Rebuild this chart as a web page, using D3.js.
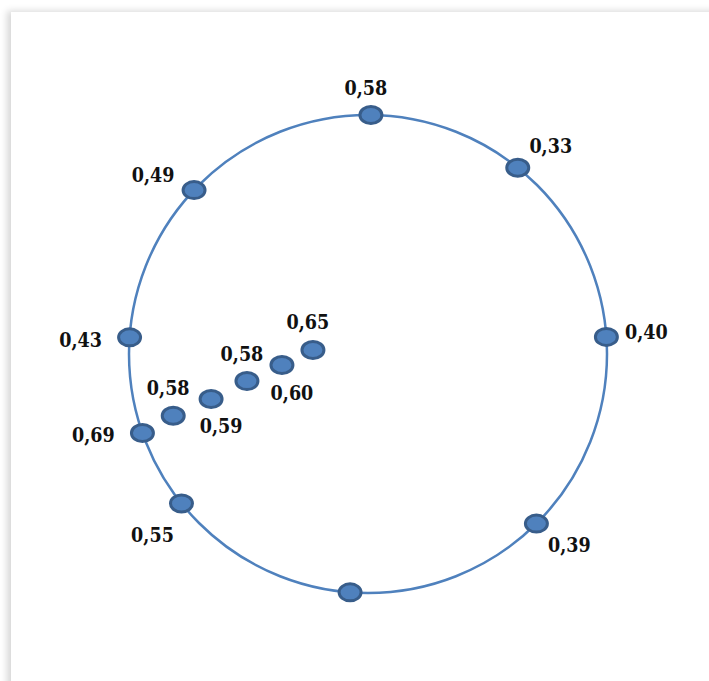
<!DOCTYPE html>
<html>
<head>
<meta charset="utf-8">
<script src="https://cdn.jsdelivr.net/npm/d3@7"></script>
<style>
  html, body { margin: 0; padding: 0; background: #fff; overflow: hidden; }
  #panel {
    position: absolute; left: 11px; top: 12px; width: 720px; height: 700px;
    background: #fff; box-shadow: -4px -1px 7px rgba(0,0,0,0.16);
  }
  svg { position: absolute; left: 0; top: 0; }
</style>
</head>
<body>
<div id="panel"></div>
<svg id="chart" width="709" height="681"></svg>
<script>
// Nodes on the ring: angle (degrees, clockwise from top) and value label
const ringAngles = [0.7, 38.8, 85.9, 135.2, 184.3, 231.3, 250.7, 274.0, 313.3];
const ringLabels = ["0,58", "0,33", "0,40", "0,39", "", "0,55", "0,69", "0,43", "0,49"];
const ringLabelSides = ["n", "ne", "e", "se", "s", "sw", "w", "w", "nw"];

// Nodes inside the ring: angle (degrees) and distance from centre (fraction of ring radius)
const innerAngles = [252.4, 254.0, 257.4, 262.7, 274.2];
const innerRadii = [0.855, 0.683, 0.519, 0.363, 0.231];
const innerLabels = ["0,58", "0,59", "0,58", "0,60", "0,65"];
const innerLabelSides = ["n", "s", "n", "s", "n"];

const svg = d3.select("#chart");
const cx = 368, cy = 354, R = 239;

const angle = d3.scaleLinear().domain([0, 360]).range([0, 2 * Math.PI]);
const radius = d3.scaleLinear().domain([0, 1]).range([0, R]);

function pos(a, r) {
  const t = angle(a);
  return [cx + radius(r) * Math.sin(t), cy - radius(r) * Math.cos(t)];
}

const offsets = {
  n: [-5, -27], s: [10, 28], e: [40, -4], w: [-49, 3],
  ne: [33, -21], se: [33, 22], sw: [-29, 32], nw: [-41, -15]
};

// ring
svg.append("circle")
  .attr("cx", cx).attr("cy", cy).attr("r", radius(1))
  .attr("fill", "none").attr("stroke", "#4f81bd").attr("stroke-width", 2.5);

const nodes = ringAngles.map((a, i) => ({ a, r: 1, label: ringLabels[i], side: ringLabelSides[i] }))
  .concat(innerAngles.map((a, i) => ({ a, r: innerRadii[i], label: innerLabels[i], side: innerLabelSides[i] })));

nodes.forEach(d => { const p = pos(d.a, d.r); d.x = p[0]; d.y = p[1]; });

svg.selectAll("ellipse.node").data(nodes).join("ellipse")
  .attr("class", "node")
  .attr("cx", d => d.x).attr("cy", d => d.y)
  .attr("rx", 11).attr("ry", 8.5)
  .attr("fill", "#4f81bd").attr("stroke", "#385d8a").attr("stroke-width", 3);

svg.selectAll("text.lbl").data(nodes.filter(d => d.label)).join("text")
  .attr("class", "lbl")
  .attr("x", d => d.x + offsets[d.side][0])
  .attr("y", d => d.y + offsets[d.side][1])
  .attr("text-anchor", "middle")
  .attr("dominant-baseline", "central")
  .attr("font-family", "'DejaVu Serif Condensed', 'DejaVu Serif', serif")
  .attr("font-stretch", "condensed")
  .attr("font-weight", "bold")
  .attr("font-size", 19.5)
  .attr("fill", "#111")
  .text(d => d.label);
</script>
</body>
</html>
